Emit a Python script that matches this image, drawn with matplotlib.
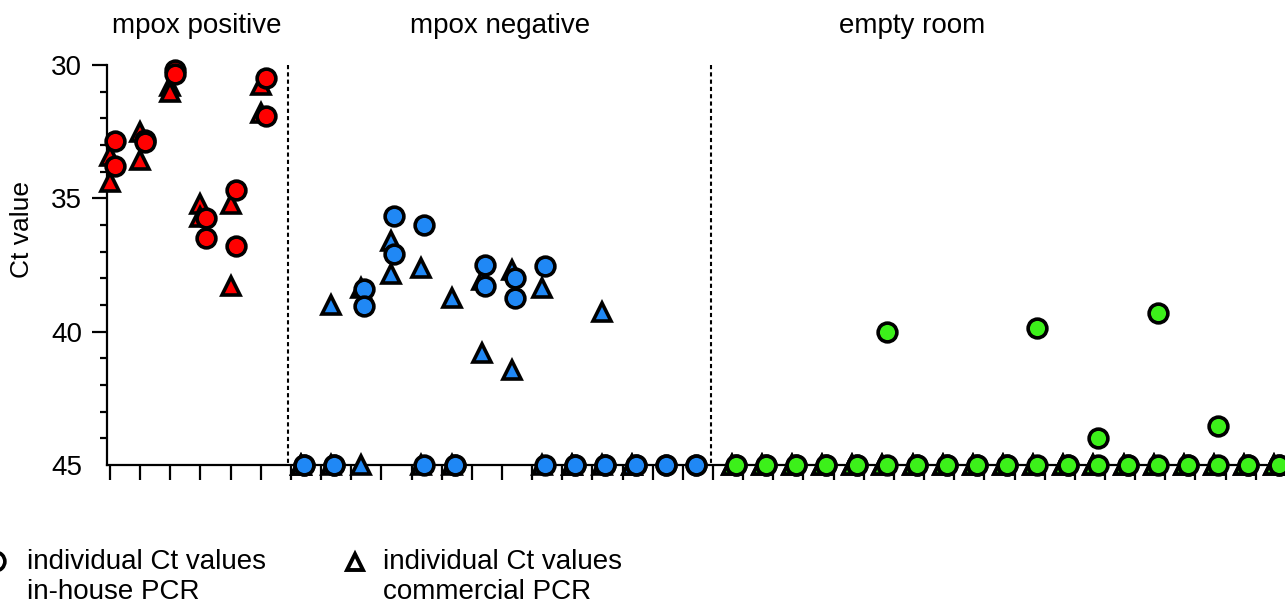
import numpy as np
import matplotlib
matplotlib.use("Agg")
import matplotlib.pyplot as plt

plt.rcParams['font.family'] = ['Liberation Sans', 'DejaVu Sans']

# Ct values per sample (45 = not detected, nan = not measured)
groups = ["mpox positive", "mpox negative", "empty room"]

pos_inhouse = [[32.85, 33.8], [32.8, 32.9], [30.2, 30.35],
               [35.75, 36.5], [34.7, 36.8], [30.5, 31.9]]
pos_commercial = [[33.4, 34.4], [32.5, 33.55], [30.8, 31.0],
                  [35.2, 35.7], [35.2, 38.3], [30.75, 31.8]]

neg_inhouse = [[45, 45], [45, 45], [38.4, 39.05], [35.65, 37.1],
               [36.0, 45], [45, 45], [37.5, 38.3], [38.0, 38.75],
               [37.55, 45], [45, 45], [45, 45], [45, 45], [45, 45], [45, 45]]
neg_commercial = [[45, 45], [39.0, 45], [38.35, 45], [36.6, 37.85],
                  [37.6, 45], [38.75, 45], [38.05, 40.8], [37.7, 41.45],
                  [38.35, 45], [45, 45], [39.25, 45], [45, 45],
                  [np.nan, np.nan], [np.nan, np.nan]]

room_inhouse = [[45, 45], [45, 45], [45, 45], [45, 45], [45, 45],
                [40.0, 45], [45, 45], [45, 45], [45, 45], [45, 45],
                [39.85, 45], [45, 45], [44.0, 45], [45, 45], [39.3, 45],
                [45, 45], [43.55, 45], [45, 45], [45, 45]]
room_commercial = [[45, 45]] * 19

colors = ["#ff0000", "#2088f5", "#3cf01a"]

inhouse = [pos_inhouse, neg_inhouse, room_inhouse]
commercial = [pos_commercial, neg_commercial, room_commercial]

# layout: slot index where each group starts and marker offsets within slot
starts = [0, 6, 20]
tri_off = [0.0, 0.33, 0.62]
circ_off = [0.17, 0.43, 0.76]

W, H = 1285, 605
fig = plt.figure(figsize=(W / 100, H / 100), dpi=100)

px = 30.15  # pixels per slot
x0 = 110
ax_left, ax_right, ax_top, ax_bot = 107, 1285, 65, 465
ax = fig.add_axes([ax_left / W, 1 - ax_bot / H, (ax_right - ax_left) / W, (ax_bot - ax_top) / H])
ax.set_xlim((ax_left - x0) / px, (ax_right - x0) / px)
ax.set_ylim(45, 30)

ms = 13.5
mew = 2.6
for g in range(3):
    for i, tri in enumerate(commercial[g]):
        slot = starts[g] + i
        ax.plot([slot + tri_off[g]] * 2, tri, ls='none', marker='^', ms=ms,
                mfc=colors[g], mec='black', mew=mew, clip_on=False, zorder=4)
    for i, circ in enumerate(inhouse[g]):
        slot = starts[g] + i
        ax.plot([slot + circ_off[g]] * 2, circ, ls='none', marker='o', ms=ms,
                mfc=colors[g], mec='black', mew=mew, clip_on=False, zorder=5)

# group separators
for xs in [(288 - x0) / px, (711 - x0) / px]:
    ax.plot([xs, xs], [30, 45], color='black', lw=1.5, ls=(0, (2, 1.5)), zorder=1)

for s in ['top', 'right']:
    ax.spines[s].set_visible(False)
for s in ['left', 'bottom']:
    ax.spines[s].set_linewidth(1.6)
ax.spines['bottom'].set_zorder(3)

ax.set_yticks([30, 35, 40, 45])
ax.set_yticks(np.arange(30, 46, 1), minor=True)
ax.tick_params(axis='y', which='major', length=11, width=1.6, labelsize=20, pad=7)
ax.tick_params(axis='y', which='minor', length=5, width=1.6)
ax.yaxis.get_major_ticks()[-1].tick1line.set_visible(False)
ax.set_xticks(np.arange(0, 39))
ax.tick_params(axis='x', which='major', length=11, width=1.6, labelbottom=False)

# overlay in pixel coordinates for titles and legend
ov = fig.add_axes([0, 0, 1, 1])
ov.set_xlim(0, W)
ov.set_ylim(H, 0)
ov.axis('off')

ov.text(22, 230, "Ct value", fontsize=19, rotation=90, ha='center', va='center')

title_x = [197, 500, 912]
for t, tx in zip(groups, title_x):
    ov.text(tx, 26, t, fontsize=20, ha='center', va='center')

ov.plot([-5], [561], ls='none', marker='o', ms=ms, mfc='white', mec='black', mew=mew, clip_on=False)
ov.plot([355], [562], ls='none', marker='^', ms=11, mfc='white', mec='black', mew=2.8, clip_on=False)
ov.text(27, 562, "individual Ct values", fontsize=20, ha='left', va='center')
ov.text(27, 592, "in-house PCR", fontsize=20, ha='left', va='center')
ov.text(383, 562, "individual Ct values", fontsize=20, ha='left', va='center')
ov.text(383, 592, "commercial PCR", fontsize=20, ha='left', va='center')

fig.savefig("out.png", dpi=100)
